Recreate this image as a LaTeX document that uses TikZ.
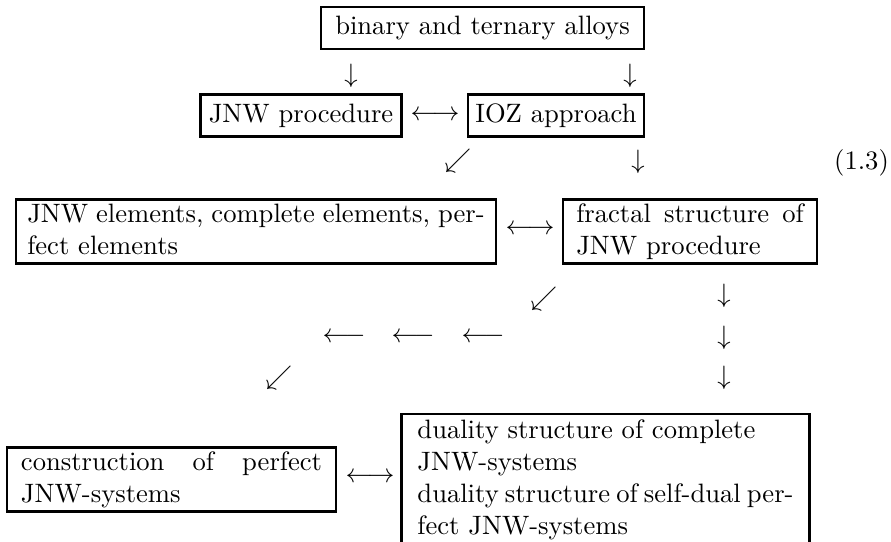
\documentclass[tikz,border=0pt]{standalone}
\hbadness=10000
% a line set to the full text width, with ordinary stretchable word spaces
\newcommand\fullline[1]{\makebox[\hsize][s]{\spaceskip=0pt\xspaceskip=0pt\relax #1}}
\begin{document}
% one unit = one pixel of the 891 x 541 layout grid (about 2.66 px per pt), y grows downwards
\begin{tikzpicture}[x=0.376pt, y=-0.376pt]
\tikzset{
  framebox/.style={draw, line width=1pt, inner xsep=0pt, inner ysep=3.4pt},
  parabox/.style={draw, line width=1pt, align=left, anchor=north, inner ysep=1.7pt,
    text height=6.94pt, text depth=13.7pt},
  glyph/.style={inner sep=0pt},
}
\useasboundingbox (0,0) rectangle (891,541);
\fill[white] (0,0) rectangle (891,541);
\clip (0,0) rectangle (891,541);

% first two rows
\node[framebox, minimum width=121.4pt] (alloys) at (482.5,28) {binary and ternary alloys};
\node[glyph] (dA) at (351,76) {$\downarrow$};
\node[glyph] (dB) at (630,76) {$\downarrow$};
\node[framebox, minimum width=75.6pt] (jnwproc) at (301,115.5) {JNW procedure};
\node[glyph] (lrA) at (435,116) {$\longleftrightarrow$};
\node[framebox, minimum width=66.2pt] (ioz) at (556,115.5) {IOZ approach};

% third row with the equation number
\node[glyph] (swA) at (458,161) {$\swarrow$};
\node[glyph] (dC) at (638,162) {$\downarrow$};
\node[glyph] (eqno) at (861.5,163) {(1.3)};

% elements and fractal structure
\node[parabox, text width=172pt, inner xsep=4.2pt] (elements) at (256,198)
  {\fullline{JNW elements, complete elements, per-}\\fect elements};
\node[glyph] (lrB) at (530,230) {$\longleftrightarrow$};
\node[parabox, text width=85.5pt, inner xsep=5pt] (fractal) at (690,198)
  {\fullline{fractal structure of}\\JNW procedure};

% arrows leading down to the last row
\node[glyph] (swB) at (544,299) {$\swarrow$};
\node[glyph] (dD) at (724,296) {$\downarrow$};
\node[glyph] (lA) at (344,338) {$\longleftarrow$};
\node[glyph] (lB) at (413,338) {$\longleftarrow$};
\node[glyph] (lC) at (483,338) {$\longleftarrow$};
\node[glyph] (dE) at (724,338) {$\downarrow$};
\node[glyph] (swC) at (279,378) {$\swarrow$};
\node[glyph] (dF) at (724,378) {$\downarrow$};

% last row
\node[parabox, text width=113.2pt, inner xsep=5.25pt] (construction) at (171.5,446)
  {\fullline{construction of perfect}\\JNW-systems};
\node[glyph] (lrC) at (370,478) {$\longleftrightarrow$};
% this box runs past the lower edge: only its top and sides are drawn
\node[parabox, draw=none, text width=141.4pt, inner xsep=5.45pt, text depth=50pt] (duality) at (605.5,414)
  {duality structure of complete\\JNW-systems\\
   \fullline{duality structure of self-dual per-}\\fect JNW-systems};
\draw[line width=1pt] (duality.south west) -- (duality.north west)
  -- (duality.north east) -- (duality.south east);
\end{tikzpicture}
\end{document}
